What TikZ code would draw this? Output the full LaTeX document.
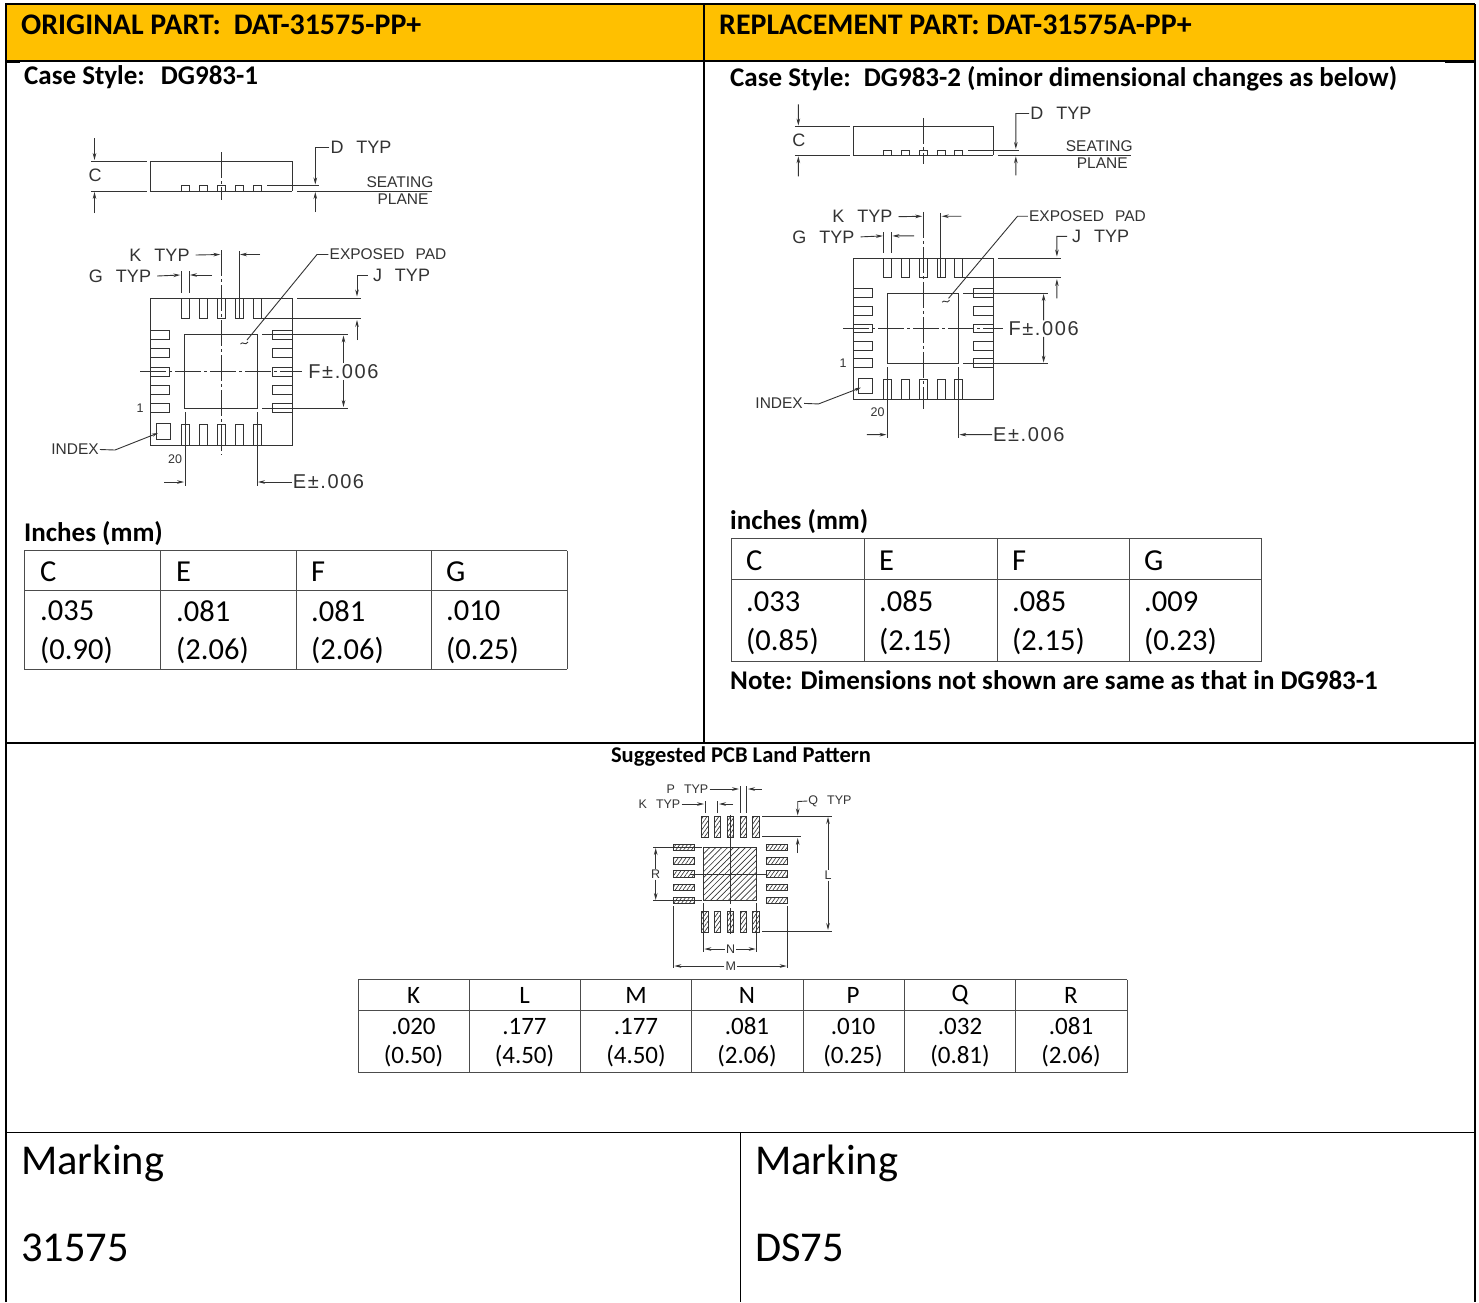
\documentclass[tikz,border=0pt]{standalone}
\usepackage{fontspec}
\setmainfont{Carlito}
\newfontfamily\cadfont{Liberation Sans}
\newfontfamily\cadwide[LetterSpace=8]{Liberation Sans}
\usetikzlibrary{arrows.meta,patterns.meta}
\definecolor{hdr}{HTML}{FFC000}
\definecolor{cad}{gray}{0.2}
\newcommand\fs[1]{\fontsize{#1pt}{#1pt}\selectfont}
\newcommand\wsp{\hspace{13pt}}
\tikzset{
  frame/.style={line width=1.6pt,black},
  heavy/.style={line width=2.8pt,black},
  cadline/.style={line width=.9pt,cad},
  dim/.style={line width=.9pt,cad,-{Stealth[length=7pt,width=3.6pt]}},
  center line/.style={line width=.8pt,cad,dash pattern=on 26pt off 3pt on 3pt off 3pt},
  cadbig/.style={inner sep=1pt,text=cad,font=\cadfont\fs{18}},
  cadnum/.style={inner sep=1pt,text=cad,font=\cadwide\fs{20}},
  cadsmall/.style={inner sep=1pt,text=cad,font=\cadfont\fs{15.5}},
  cadtiny/.style={inner sep=1pt,text=cad,font=\cadfont\fs{12.5}},
  title/.style={anchor=west,inner sep=0pt,font=\bfseries\fs{29.9}},
  sub/.style={anchor=west,inner sep=0pt,font=\bfseries\fs{27}},
  cell/.style={anchor=west,inner sep=0pt,font=\fs{30.5}},
  lowcell/.style={inner sep=0pt,font=\fs{25}},
  tline/.style={line width=1pt,black!70},
  marking/.style={anchor=west,inner sep=0pt,font=\fs{42.5}},
  lpad/.style={line width=.9pt,cad,pattern={Lines[angle=55,distance=3.2pt,line width=.65pt]},pattern color=cad},
  lpadbig/.style={line width=1pt,cad,pattern={Lines[angle=45,distance=4.2pt,line width=.65pt]},pattern color=cad},
}
% package drawing in the coordinates of the left-hand copy
\newcommand\pkgdrawing[1]{%
  \def\p{#1}%
  % side view
  \draw[cadline] (150,191) -- (150,161) -- (292.3,161) -- (292.3,191);
  \draw[cadline] (150,191) -- (292.3,191);
  \draw[cadline] (91,161) -- (147,161) (91,191) -- (147,191);
  \foreach \x in {181,199,217,235.5,253}
    \draw[cadline] (\x,191) rectangle ++(8.3,-5.5);
  \draw[center line] (221,152) -- (221,200);
  \draw[cadline] (267,185.6) -- (319,185.6) (297,191) -- (432,191);
  \node[cadbig] (\p-c) at (95,175.5) {C};
  \coordinate (\p-ca) at (94.5,138);
  \coordinate (\p-cb) at (94.5,213);
  \draw[dim] (\p-ca) -- (94.5,160);
  \draw[dim] (\p-cb) -- (94.5,192);
  \node[cadbig] (\p-d) at (361,147.5) {D\wsp TYP};
  \draw[dim] (\p-d.west) -- (315.3,147.5) -- (315.3,184.5);
  \coordinate (\p-db) at (315.3,212);
  \draw[dim] (\p-db) -- (315.3,192);
  \node[cadsmall] (\p-s1) at (400,182) {SEATING};
  \node[cadsmall] (\p-s2) at (403,199.5) {PLANE};
  % top view
  \draw[cadline] (150,298) rectangle (292.3,445);
  \foreach \x in {181,199,217,235.5,253} {
    \draw[cadline] (\x,298) rectangle ++(8.3,20);
    \draw[cadline] (\x,424) rectangle ++(8.3,21);
  }
  \foreach \y in {330,348.5,367,385,403} {
    \draw[cadline] (150,\y) rectangle ++(19.5,9);
    \draw[cadline] (272.5,\y) rectangle ++(19.8,9);
  }
  \draw[cadline] (184.5,334.5) rectangle (257,408);
  \draw[cadline] (156,423) rectangle (170,439);
  \draw[center line] (221,250) -- (221,455);
  \draw[center line] (140,371) -- (302,371);
  % K
  \node[cadbig] (\p-k) at (159.5,255) {K\wsp TYP};
  \draw[dim] ([xshift=5pt]\p-k.east) -- (220.3,254.5);
  \coordinate (\p-kr) at (260,254.5);
  \draw[dim] (\p-kr) -- (240,254.5);
  \draw[cadline] (239,251) -- (239,318);
  % G
  \node[cadbig] (\p-g) at (120,276) {G\wsp TYP};
  \draw[dim] ([xshift=5pt]\p-g.east) -- (180.3,275);
  \coordinate (\p-gr) at (212,275);
  \draw[dim] (\p-gr) -- (190,275);
  \draw[cadline] (181,271) -- (181,293) (189,271) -- (189,293);
  % exposed pad
  \node[cadsmall] (\p-ep) at (388,254.5) {EXPOSED\hspace{11pt}PAD};
  \draw[cadline] (\p-ep.west) -- (317,254.5) -- (247,340);
  \draw[cadline] (240.5,344) .. controls (243,340.5) and (245,346.5) .. (248,342);
  % J
  \node[cadbig] (\p-j) at (401.5,275.5) {J\wsp TYP};
  \draw[dim] ([xshift=-4pt]\p-j.west) -- (357,275.5) -- (357,296.5);
  \draw[cadline] (297,298) -- (361,298) (262,318) -- (361,318);
  \coordinate (\p-jb) at (357,340);
  \draw[dim] (\p-jb) -- (357,320);
  % F
  \node[cadnum] (\p-f) at (343.5,371.5) {F±.006};
  \draw[dim] (\p-f.north) -- (343.5,335.5);
  \draw[dim] (\p-f.south) -- (343.5,407);
  \draw[cadline] (262,334.5) -- (348,334.5) (262,408) -- (348,408);
  % labels 1, 20
  \node[cadtiny] (\p-one) at (140,408) {1};
  \node[cadtiny] (\p-tw) at (175,459) {20};
  % index
  \node[cadsmall] (\p-ix) at (75,449.5) {INDEX};
  \draw[cadline,-{Stealth[length=6pt,width=3.2pt]}] (\p-ix.east) -- (115,450) -- (158,433);
  % E
  \node[cadnum] (\p-e) at (328.5,482) {E±.006};
  \draw[cadline] (185,412) -- (185,486) (257,412) -- (257,486);
  \coordinate (\p-el) at (164,482);
  \draw[dim] (\p-el) -- (184,482);
  \draw[dim] (\p-e.west) -- (258,482);
}
\begin{document}
\begin{tikzpicture}[x=1pt,y=-1pt]
\useasboundingbox (0,0) rectangle (1479,1302);
\fill[white] (0,0) rectangle (1479,1302);
% header bands
\fill[hdr] (6,4) rectangle (1475,61);
% frame
\draw[line width=2.4pt] (6,1302) -- (6,4) -- (1475,4);
\draw[line width=1.6pt] (1475,4) -- (1475,1302);
\draw[frame] (6,61) -- (1475,61);
\draw[heavy] (6,61.6) -- (20,61.6);
\draw[heavy] (1445,61.6) -- (1475,61.6);
\draw[line width=2pt] (704,4) -- (704,743);
\draw[frame] (6,743) -- (1475,743);
\draw[heavy] (6,743) -- (337,743);
\draw[heavy] (1140,743) -- (1475,743);
\draw[frame] (6,1132.5) -- (1475,1132.5);
\draw[frame] (740.5,1132.5) -- (740.5,1302);
% titles
\node[title] (t1) at (21,25) {ORIGINAL PART:\hspace{13pt}DAT-31575-PP+};
\node[title] (t2) at (719,25) {REPLACEMENT PART: DAT-31575A-PP+};
\node[sub] (s1) at (24,77.5) {Case Style:\hspace{16pt}DG983-1};
\node[sub] (s2) at (730,78.5) {Case Style:\hspace{13pt}DG983-2 (minor dimensional changes as below)};
% package drawings
\pkgdrawing{a}
\begin{scope}[cm={.985,0,0,.96,(705.25pt,28.08pt)}]
\pkgdrawing{b}
\end{scope}
% left table
\node[sub] (lt) at (24,534) {Inches (mm)};
\foreach \y in {550.5,590,669} \draw[tline] (24,\y) -- (567,\y);
\foreach \x in {24.5,160.5,296.5,431.5,567} \draw[tline] (\x,550.5) -- (\x,669);
\foreach \n/\x/\a/\b/\c in {1/40/C/.035/(0.90),2/176/E/.081/(2.06),3/311/F/.081/(2.06),4/446/G/.010/(0.25)} {
  \node[cell] (la\n) at (\x,571.5) {\a};
  \node[cell] (lb\n) at (\x,611) {\b};
  \node[cell] (lc\n) at (\x,650) {\c};
}
% right table
\node[sub] (rt) at (730,522) {inches (mm)};
\foreach \y in {538.5,579,661} \draw[tline] (731,\y) -- (1261.5,\y);
\foreach \x in {731,864,997,1129,1261.5} \draw[tline] (\x,538.5) -- (\x,661);
\foreach \n/\x/\a/\b/\c in {1/746/C/.033/(0.85),2/879/E/.085/(2.15),3/1012/F/.085/(2.15),4/1144/G/.009/(0.23)} {
  \node[cell] (ra\n) at (\x,560.5) {\a};
  \node[cell] (rb\n) at (\x,601.5) {\b};
  \node[cell] (rc\n) at (\x,641.5) {\c};
}
\node[sub] (nt) at (730,680.5) {Note: Dimensions not shown are same as that in DG983-1};
% land pattern
\node[inner sep=0pt,font=\bfseries\fs{22.5}] (lp) at (741,756.5) {Suggested PCB Land Pattern};
\foreach \x in {701.7,714.3,727.3,740,752.7} {
  \draw[lpad] (\x,816) rectangle ++(6.6,21);
  \draw[lpad] (\x,911) rectangle ++(6.6,21);
}
\foreach \y in {844,857.3,870.7,884,897} {
  \draw[lpad] (673,\y) rectangle ++(21,6.8);
  \draw[lpad] (766.7,\y) rectangle ++(21,6.8);
}
\draw[lpadbig] (703.3,847.3) rectangle (756.7,900.7);
\draw[cadline] (730.7,815) -- (730.7,904) (730.7,908) -- (730.7,934);
\draw[cadline] (690,874) -- (766,874);
\node[cadtiny] (lpP) at (687.5,789) {P\hspace{9pt}TYP};
\draw[dim] (lpP.east) -- (739,789);
\coordinate (lpPr) at (761.7,789);
\draw[dim] (lpPr) -- (748,789);
\draw[cadline] (740,786) -- (740,813) (746.7,786) -- (746.7,813);
\node[cadtiny] (lpK) at (659.5,804) {K\hspace{9pt}TYP};
\draw[dim] (lpK.east) -- (704,804);
\coordinate (lpKr) at (733,804);
\draw[dim] (lpKr) -- (719,804);
\draw[cadline] (705,801) -- (705,813) (717.7,801) -- (717.7,813);
\node[cadtiny] (lpQ) at (830,801) {Q\hspace{9pt}TYP};
\draw[dim] (lpQ.west) -- (797.7,801.5) -- (797.7,815.5);
\draw[cadline] (762,816) -- (832,816) (762,836.7) -- (800.7,836.7) (762,931) -- (832,931);
\coordinate (lpQb) at (797.7,853);
\draw[dim] (lpQb) -- (797.7,838);
\node[cadtiny] (lpL) at (828,875) {L};
\draw[dim] (lpL.north) -- (828,817);
\draw[dim] (lpL.south) -- (828,930);
\node[cadtiny] (lpR) at (655.7,874) {R};
\draw[dim] (lpR.north) -- (655.7,848);
\draw[dim] (lpR.south) -- (655.7,900);
\draw[cadline] (653,847) -- (702,847) (653,900.7) -- (702,900.7);
\node[cadtiny] (lpN) at (730.7,949) {N};
\draw[dim] (lpN.west) -- (704.3,949);
\draw[dim] (lpN.east) -- (755.7,949);
\draw[cadline] (703.3,903) -- (703.3,952) (756.7,903) -- (756.7,952);
\node[cadtiny] (lpM) at (730.7,966) {M};
\draw[dim] (lpM.west) -- (674.3,966);
\draw[dim] (lpM.east) -- (786.7,966);
\draw[cadline] (673.3,906) -- (673.3,968) (787.7,906) -- (787.7,968);
% lower table
\foreach \y in {979.5,1010,1072.5} \draw[tline] (358,\y) -- (1127,\y);
\foreach \x in {358,469,580.5,691,803,904,1015,1127} \draw[tline] (\x,979.5) -- (\x,1072.5);
\foreach \n/\x/\a/\b/\c in {1/413.5/K/.020/(0.50),2/524.5/L/.177/(4.50),3/636/M/.177/(4.50),4/747/N/.081/(2.06),5/853/P/.010/(0.25),6/960/Q/.032/(0.81),7/1071/R/.081/(2.06)} {
  \node[lowcell] (ma\n) at (\x,995.5) {\a};
  \node[lowcell] (mb\n) at (\x,1026.5) {\b};
  \node[lowcell] (mc\n) at (\x,1056.5) {\c};
}
% marking
\node[marking] (m1) at (21,1163) {Marking};
\node[marking] (m2) at (21,1248) {31575};
\node[marking] (m3) at (755,1163) {Marking};
\node[marking] (m4) at (755,1248) {DS75};
\end{tikzpicture}
\end{document}
